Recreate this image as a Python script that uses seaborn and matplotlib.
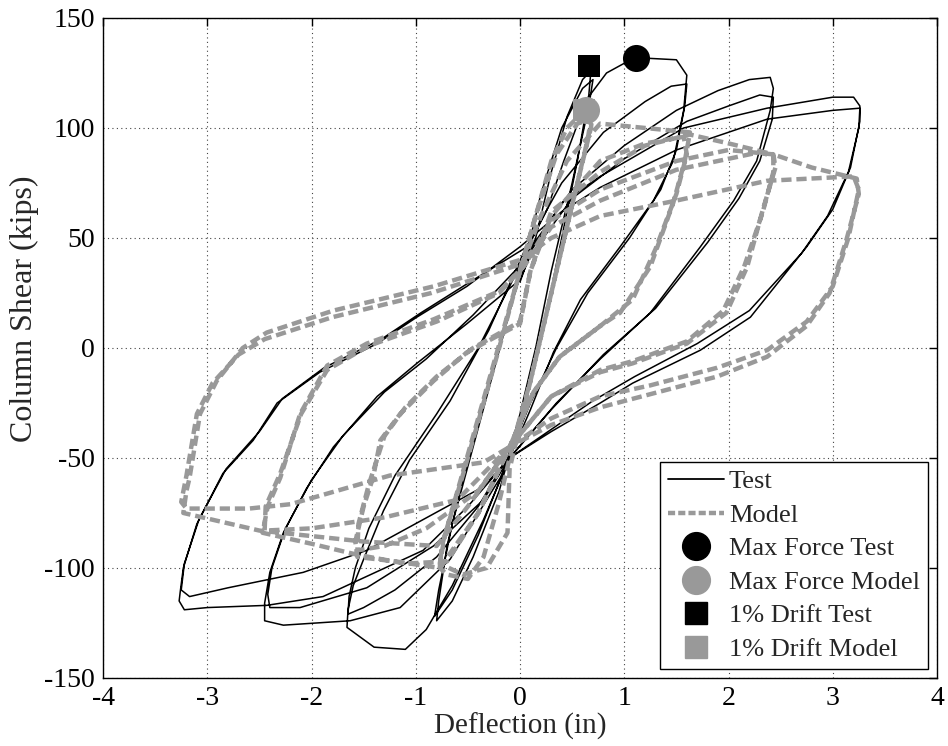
import seaborn as sns
import matplotlib.pyplot as plt
from matplotlib.lines import Line2D
import pandas as pd

# Test hysteresis, one list per drift level (deflection in, shear kips)
test_07 = [(0, 30), (0.15, 50), (0.3, 80), (0.45, 105), (0.6, 122), (0.68, 126),
           (0.66, 115), (0.55, 85), (0.4, 50), (0.25, 15), (0.1, -15), (-0.05, -40), (-0.2, -65),
           (-0.45, -95), (-0.65, -115), (-0.8, -124), (-0.78, -115), (-0.7, -90), (-0.55, -60),
           (-0.35, -25), (-0.15, 10), (0.05, 40), (0.2, 70), (0.4, 100), (0.6, 118), (0.7, 122),
           (0.66, 110), (0.5, 75), (0.3, 35), (0.15, 0), (0, -30), (-0.15, -55), (-0.4, -85),
           (-0.65, -110), (-0.82, -122), (-0.78, -110), (-0.65, -80), (-0.45, -45), (-0.25, -10),
           (-0.05, 25), (0.1, 48)]
test_16 = [(0.26, 63), (0.42, 85), (0.64, 113), (0.83, 125), (1.1, 132), (1.5, 131), (1.6, 124),
           (1.57, 108), (1.47, 85), (1.28, 67), (0.96, 46), (0.58, 22), (0.32, -2), (0.1, -28),
           (-0.1, -50), (-0.35, -78), (-0.65, -108), (-0.9, -128), (-1.1, -137), (-1.4, -136),
           (-1.66, -127), (-1.65, -119), (-1.6, -108), (-1.5, -96), (-1.31, -74), (-1.06, -51),
           (-0.67, -24), (-0.3, 8), (0.05, 45), (0.4, 75), (0.8, 98), (1.2, 112), (1.45, 119),
           (1.6, 120), (1.58, 110), (1.5, 90), (1.35, 72), (1.05, 50), (0.65, 25), (0.35, 0),
           (0.1, -25), (-0.1, -48), (-0.4, -72), (-0.8, -95), (-1.2, -110), (-1.5, -118),
           (-1.65, -121), (-1.64, -113), (-1.58, -100), (-1.45, -82), (-1.2, -58), (-0.8, -30),
           (-0.4, 0), (0.05, 42)]
test_24 = [(0.5, 72), (1.0, 92), (1.5, 108), (1.9, 117), (2.2, 122), (2.4, 123), (2.43, 118),
           (2.4, 108), (2.27, 85), (2.05, 67), (1.73, 46), (1.25, 16), (0.77, -5), (0.35, -25),
           (-0.1, -50), (-0.19, -59), (-0.67, -96), (-1.15, -118), (-1.63, -124), (-2.27, -126),
           (-2.45, -124), (-2.45, -116), (-2.4, -102), (-2.27, -84), (-2.05, -64), (-1.79, -45),
           (-1.37, -22), (-0.99, -7), (-0.51, 11), (0, 31), (0.1, 42), (0.5, 68), (1.0, 86),
           (1.6, 103), (2.0, 110), (2.3, 115), (2.43, 114), (2.42, 104), (2.3, 85), (2.1, 68),
           (1.8, 48), (1.3, 18), (0.8, -3), (0.3, -28), (-0.1, -50), (-0.35, -69), (-0.83, -90),
           (-1.47, -109), (-2.11, -118), (-2.4, -118), (-2.42, -112), (-2.38, -100), (-2.25, -82),
           (-2.0, -60), (-1.7, -40), (-1.3, -20), (-0.9, -5), (-0.45, 15), (0.05, 40)]
test_32 = [(0.4, 66), (0.77, 78), (1.57, 100), (2.37, 109), (3.0, 114), (3.2, 114), (3.26, 110),
           (3.26, 103), (3.17, 82), (3.0, 63), (2.75, 46), (2.21, 14), (1.73, -1), (1.08, -16),
           (0.77, -25), (0.3, -38), (-0.1, -50), (-0.5, -72), (-0.93, -92), (-1.89, -113),
           (-2.43, -117), (-3.0, -118), (-3.22, -119), (-3.27, -115), (-3.26, -111), (-3.23, -100),
           (-3.1, -80), (-2.85, -57), (-2.56, -42), (-2.33, -25), (-1.92, -11), (-1.37, 2),
           (-0.99, 14), (-0.51, 28), (0, 46), (0.4, 62), (0.77, 73), (1.5, 90), (2.37, 104),
           (3.0, 108), (3.26, 109), (3.25, 100), (3.15, 80), (2.95, 60), (2.7, 43), (2.2, 17),
           (1.7, 2), (1.1, -13), (0.7, -24), (0.3, -37), (-0.1, -50), (-0.35, -63), (-1.47, -92),
           (-2.08, -102), (-2.8, -109), (-3.17, -113), (-3.25, -110), (-3.22, -98), (-3.08, -78),
           (-2.82, -55), (-2.5, -38), (-2.28, -23), (-1.88, -9), (-1.33, 4), (-0.95, 16),
           (-0.48, 30), (0, 44), (0.2, 50)]

# Model hysteresis
model_07 = [(0, 35), (0.15, 60), (0.3, 85), (0.45, 100), (0.6, 107), (0.7, 108),
            (0.68, 100), (0.55, 75), (0.4, 45), (0.25, 15), (0.1, -15), (-0.05, -40), (-0.2, -70),
            (-0.35, -95), (-0.5, -105), (-0.7, -103), (-0.77, -100), (-0.75, -90), (-0.6, -65),
            (-0.45, -40), (-0.3, -15), (-0.15, 10), (0, 35), (0.15, 60), (0.35, 88), (0.55, 102),
            (0.68, 104), (0.65, 95), (0.5, 65), (0.35, 35), (0.2, 5), (0.05, -25), (-0.1, -55),
            (-0.12, -84), (-0.32, -100), (-0.55, -103), (-0.77, -98), (-0.72, -85), (-0.55, -58),
            (-0.38, -30), (-0.2, 0), (0, 35)]
model_16 = [(0.2, 60), (0.45, 85), (0.77, 102), (1.2, 100), (1.63, 98), (1.6, 90), (1.58, 85),
            (1.47, 66), (1.25, 37), (0.96, 16), (0.77, 10), (0.38, -4), (0.13, -20), (-0.1, -45),
            (-0.4, -75), (-0.77, -100), (-1.2, -97), (-1.56, -95), (-1.58, -88), (-1.5, -72),
            (-1.41, -59), (-1.34, -42), (-1.15, -30), (-0.83, -15), (-0.51, -2), (0, 11), (0.1, 35),
            (0.3, 60), (0.77, 85), (1.2, 93), (1.57, 96), (1.6, 88), (1.5, 70), (1.3, 45),
            (1.08, 22), (0.77, 10), (0.38, -4), (0.13, -20), (-0.1, -45), (-0.4, -65), (-0.9, -82),
            (-1.3, -90), (-1.56, -92), (-1.55, -80), (-1.45, -62), (-1.3, -40), (-1.1, -27),
            (-0.8, -13), (-0.45, 0), (0, 12), (0.1, 35)]
model_24 = [(0.3, 62), (0.77, 80), (1.2, 92), (1.63, 97), (2.0, 93), (2.43, 88), (2.45, 82),
            (2.33, 63), (2.18, 37), (1.98, 16), (1.6, 2), (1.08, -7), (0.77, -11), (0.3, -22),
            (-0.1, -45), (-0.4, -75), (-0.7, -97), (-1.1, -98), (-1.56, -94), (-2.0, -89),
            (-2.47, -84), (-2.42, -72), (-2.3, -59), (-2.11, -30), (-1.85, -8), (-1.47, 2),
            (-0.83, 13), (-0.19, 26), (0.05, 38), (0.3, 55), (0.77, 67), (1.5, 81), (2.0, 86),
            (2.3, 89), (2.43, 87), (2.43, 80), (2.33, 62), (2.15, 37), (1.95, 17), (1.6, 3),
            (1.08, -6), (0.77, -10), (0.3, -22), (-0.1, -45), (-0.6, -69), (-1.3, -77),
            (-2.0, -82), (-2.45, -83), (-2.44, -72), (-2.3, -57), (-2.1, -30), (-1.85, -10),
            (-1.45, 1), (-0.8, 12), (-0.2, 25), (0.05, 38)]
model_32 = [(0.3, 58), (0.77, 72), (1.5, 85), (2.0, 90), (2.43, 88), (2.8, 82), (3.23, 77),
            (3.25, 70), (3.13, 49), (2.97, 25), (2.75, 10), (2.37, -4), (1.89, -13), (1.25, -21),
            (0.77, -27), (0.3, -35), (-0.1, -45), (-0.5, -72), (-0.8, -90), (-1.5, -88),
            (-2.5, -83), (-3.23, -75), (-3.2, -65), (-3.17, -59), (-3.07, -30), (-2.91, -15),
            (-2.66, 0), (-2.43, 7), (-1.79, 17), (-0.83, 28), (0, 40), (0.3, 50), (0.77, 60),
            (1.5, 67), (2.37, 76), (3.2, 78), (3.25, 72), (3.15, 50), (3.0, 28), (2.75, 12),
            (2.37, -1), (1.89, -9), (1.25, -17), (0.77, -22), (0.3, -32), (-0.1, -45),
            (-0.35, -52), (-1.25, -58), (-2.2, -71), (-2.6, -73), (-3.2, -73), (-3.25, -70),
            (-3.2, -58), (-3.1, -30), (-2.95, -16), (-2.7, -3), (-2.45, 4), (-1.8, 14),
            (-0.85, 25), (0, 38)]

# marked points
max_force_test = (1.11, 132)
max_force_model = (0.63, 108)
drift_test = (0.66, 128)
drift_model = (0.61, 108)

gray = '#999999'

test = pd.DataFrame(test_07 + test_16 + test_24 + test_32, columns=['x', 'y'])
model = pd.DataFrame(model_07 + model_16 + model_24 + model_32, columns=['x', 'y'])

sns.set_style('white')
plt.rcParams['font.family'] = ['Liberation Serif', 'DejaVu Serif']
plt.rcParams['axes.unicode_minus'] = False

fig = plt.figure(figsize=(9.48, 7.46), dpi=100)
ax = fig.add_axes([0.1087, 0.0912, 0.8797, 0.8847])

sns.lineplot(data=test, x='x', y='y', sort=False, estimator=None, color='black', lw=1.1, ax=ax)
sns.lineplot(data=model, x='x', y='y', sort=False, estimator=None, color=gray, lw=3.2,
             dashes=False, ax=ax).lines[-1].set_dashes((2.3, 1.1))

sns.scatterplot(x=[drift_model[0]], y=[drift_model[1]], marker='s', s=230, color=gray, lw=0, ax=ax, zorder=5)
sns.scatterplot(x=[drift_test[0]], y=[drift_test[1]], marker='s', s=230, color='black', lw=0, ax=ax, zorder=5)
sns.scatterplot(x=[max_force_model[0]], y=[max_force_model[1]], marker='o', s=380, color=gray, lw=0, ax=ax, zorder=6)
sns.scatterplot(x=[max_force_test[0]], y=[max_force_test[1]], marker='o', s=380, color='black', lw=0, ax=ax, zorder=6)

ax.set_xlim(-4, 4)
ax.set_ylim(-150, 150)
ax.set_xticks(range(-4, 5))
ax.set_yticks(range(-150, 151, 50))
ax.grid(True, color='#444444', linestyle=(0, (1, 3)), linewidth=0.8)
ax.tick_params(direction='in', length=6, width=1, top=True, right=True, labelsize=20, pad=6, colors='black')
for s in ax.spines.values():
    s.set_color('black')
    s.set_linewidth(1.0)
ax.set_xlabel('Deflection (in)', fontsize=21, labelpad=1)
ax.set_ylabel('Column Shear (kips)', fontsize=23)
ax.yaxis.set_label_coords(-0.077, 0.56)

handles = [
    Line2D([], [], color='black', lw=1.3),
    Line2D([], [], color=gray, lw=3.2, dashes=(1.6, 0.7)),
    Line2D([], [], color='black', marker='o', ms=20, lw=0),
    Line2D([], [], color=gray, marker='o', ms=20, lw=0),
    Line2D([], [], color='black', marker='s', ms=16, lw=0),
    Line2D([], [], color=gray, marker='s', ms=16, lw=0),
]
labels = ['Test', 'Model', 'Max Force Test', 'Max Force Model', '1% Drift Test', '1% Drift Model']
leg = ax.legend(handles, labels, loc='lower right', fontsize=19, frameon=True, fancybox=False,
                edgecolor='black', framealpha=1, borderaxespad=0.35, handlelength=2.1,
                handletextpad=0.2, labelspacing=0.38, borderpad=0.3)
leg.get_frame().set_linewidth(1.0)

fig.savefig('out.png', dpi=100)
